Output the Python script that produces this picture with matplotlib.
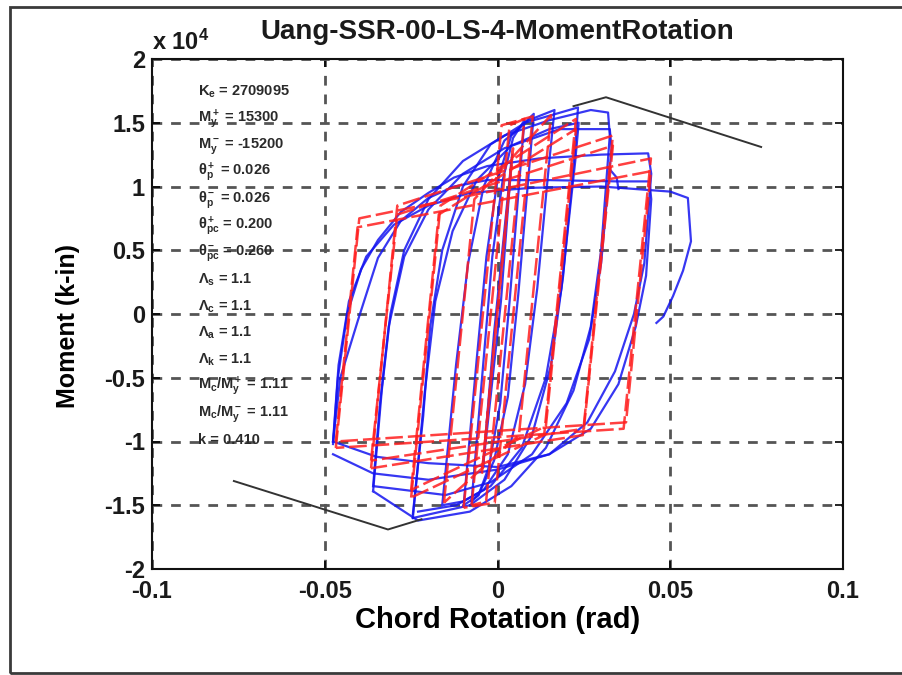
import matplotlib
matplotlib.use("Agg")
import matplotlib.pyplot as plt
from matplotlib.patches import Rectangle
import numpy as np

plt.rcParams['font.family'] = ['Liberation Sans', 'DejaVu Sans']
plt.rcParams['mathtext.fontset'] = 'custom'
plt.rcParams['mathtext.rm'] = 'Liberation Sans:bold'
plt.rcParams['mathtext.bf'] = 'Liberation Sans:bold'
plt.rcParams['mathtext.it'] = 'Liberation Sans:bold'
plt.rcParams['mathtext.default'] = 'bf'

# ---------------- data (rotation in rad, moment in 1e4 k-in) ----------------
TITLE = "Uang-SSR-00-LS-4-MomentRotation"
X_TICKS = [-0.1, -0.05, 0, 0.05, 0.1]
X_TICK_LABELS = ["-0.1", "-0.05", "0", "0.05", "0.1"]
Y_TICKS = [-2, -1.5, -1, -0.5, 0, 0.5, 1, 1.5, 2]
Y_TICK_LABELS = ["-2", "-1.5", "-1", "-0.5", "0", "0.5", "1", "1.5", "2"]

# experimental loops (blue)
BLUE_LOOP_1 = [(-0.0042, -1.20), (-0.001, -0.15), (0.0042, 1.25), (0.001, 0.10), (-0.0042, -1.20)]
BLUE_LOOP_2 = [(-0.0075, -1.47), (-0.0040, -0.35), (-0.0015, 0.45), (0.0015, 1.05), (0.0045, 1.38),
               (0.0078, 1.52), (0.0065, 1.10), (0.0035, 0.10), (0.0008, -0.70), (-0.0025, -1.20),
               (-0.0055, -1.42), (-0.0075, -1.47)]
BLUE_LOOP_3 = [(-0.0098, -1.50), (-0.0060, -0.35), (-0.0032, 0.45), (0.0000, 1.05), (0.0040, 1.40),
               (0.0105, 1.57), (0.0092, 1.15), (0.0060, 0.15), (0.0030, -0.65), (-0.0010, -1.15),
               (-0.0055, -1.42), (-0.0098, -1.50)]
BLUE_LOOP_4 = [(-0.0160, -1.50), (-0.0120, -0.40), (-0.0085, 0.40), (-0.0040, 1.00), (0.0020, 1.36),
               (0.0090, 1.52), (0.0165, 1.60), (0.0150, 1.20), (0.0115, 0.20), (0.0080, -0.55),
               (0.0030, -1.10), (-0.0040, -1.38), (-0.0100, -1.47), (-0.0160, -1.50)]
BLUE_LOOP_5 = [(-0.0245, -1.57), (-0.0215, -0.80), (-0.0195, -0.10), (-0.0160, 0.50), (-0.0100, 1.00),
               (-0.0020, 1.33), (0.0080, 1.50), (0.0233, 1.62), (0.0225, 1.30), (0.0190, 0.30),
               (0.0155, -0.40), (0.0100, -0.95), (0.0020, -1.30), (-0.0080, -1.50), (-0.0245, -1.60)]
BLUE_LOOP_6 = [(-0.0245, -1.60), (-0.0210, -0.60), (-0.0180, 0.10), (-0.0130, 0.65), (-0.0060, 1.05),
               (0.0040, 1.32), (0.0150, 1.45), (0.0235, 1.50), (0.0225, 1.20), (0.0185, 0.20),
               (0.0140, -0.50), (0.0070, -1.05), (-0.0020, -1.35), (-0.0120, -1.50), (-0.0230, -1.55)]
BLUE_LOOP_7 = [(-0.0360, -1.39), (-0.0335, -0.60), (-0.0310, 0.00), (-0.0270, 0.50), (-0.0200, 0.90),
               (-0.0100, 1.20), (0.0020, 1.40), (0.0150, 1.52), (0.0270, 1.60), (0.0320, 1.58),
               (0.0325, 1.40), (0.0300, 0.50), (0.0270, -0.10), (0.0220, -0.60), (0.0140, -1.05),
               (0.0040, -1.35), (-0.0080, -1.55), (-0.0230, -1.62), (-0.0360, -1.39)]
BLUE_LOOP_8 = [(-0.0360, -1.35), (-0.0340, -0.70), (-0.0315, -0.10), (-0.0270, 0.45), (-0.0200, 0.82),
               (-0.0100, 1.10), (0.0020, 1.30), (0.0180, 1.45), (0.0325, 1.45), (0.0330, 1.30),
               (0.0300, 0.40), (0.0265, -0.20), (0.0200, -0.70), (0.0100, -1.10), (-0.0020, -1.32),
               (-0.0150, -1.42), (-0.0360, -1.35)]
BLUE_LOOP_9 = [(-0.0476, -1.02), (-0.0462, -0.50), (-0.0435, 0.00), (-0.0395, 0.35), (-0.0346, 0.58),
               (-0.0280, 0.80), (-0.0200, 0.95), (-0.0126, 1.07), (-0.0030, 1.16), (0.0120, 1.22),
               (0.0300, 1.25), (0.0436, 1.26), (0.0445, 1.10), (0.0425, 0.40), (0.0395, 0.00),
               (0.0340, -0.45), (0.0260, -0.85), (0.0150, -1.10), (0.0000, -1.22), (-0.0200, -1.30),
               (-0.0360, -1.25), (-0.0476, -1.10)]
BLUE_LOOP_10 = [(-0.0476, -1.00), (-0.0455, -0.50), (-0.0404, -0.05), (-0.0346, 0.44), (-0.0280, 0.73),
                (-0.0200, 0.91), (-0.0126, 1.00), (-0.0030, 1.05), (0.0150, 1.05), (0.0350, 1.04),
                (0.0440, 1.04), (0.0445, 0.90), (0.0430, 0.30), (0.0400, -0.10), (0.0350, -0.55),
                (0.0270, -0.90), (0.0150, -1.10), (0.0000, -1.20), (-0.0200, -1.17), (-0.0350, -1.12),
                (-0.0476, -1.00)]
BLUE_LOOP_11 = [(-0.0476, -1.00), (-0.0460, -0.40), (-0.0430, 0.10), (-0.0380, 0.45), (-0.0300, 0.70),
                (-0.0200, 0.85), (-0.0080, 0.95), (0.0100, 0.99), (0.0300, 1.00), (0.0500, 0.96),
                (0.0551, 0.91), (0.0560, 0.57), (0.0537, 0.34), (0.0508, 0.14), (0.0480, -0.02),
                (0.0460, -0.07)]
BLUE_LOOP_12 = [(0.0320, 1.15), (0.0345, 1.07), (0.0350, 0.98)]

# model loops (red)
RED_LOOP_1 = [(-0.0045, -1.25), (0.0045, 1.30), (-0.0045, -1.25)]
RED_LOOP_2 = [(-0.0075, -1.50), (0.0035, 1.48), (0.0078, 1.53), (-0.0033, -1.47), (-0.0075, -1.50)]
RED_LOOP_3 = [(-0.0098, -1.52), (0.0012, 1.48), (0.0102, 1.55), (-0.0008, -1.48), (-0.0098, -1.52)]
RED_LOOP_4 = [(-0.0155, -1.48), (-0.0067, 0.90), (0.0155, 1.56), (0.0062, -0.95), (-0.0155, -1.48)]
RED_LOOP_5 = [(-0.0250, -1.44), (-0.0165, 0.85), (0.0227, 1.53), (0.0135, -0.95), (-0.0250, -1.44)]
RED_LOOP_6 = [(-0.0250, -1.38), (-0.0170, 0.78), (0.0227, 1.45), (0.0140, -0.88), (-0.0250, -1.38)]
RED_LOOP_7 = [(-0.0366, -1.21), (-0.0290, 0.85), (0.0334, 1.40), (0.0247, -0.95), (-0.0366, -1.21)]
RED_LOOP_8 = [(-0.0366, -1.15), (-0.0290, 0.78), (0.0334, 1.32), (0.0250, -0.90), (-0.0366, -1.15)]
RED_LOOP_9 = [(-0.0468, -1.05), (-0.0400, 0.75), (0.0444, 1.22), (0.0365, -0.90), (-0.0468, -1.05)]
RED_LOOP_10 = [(-0.0468, -1.00), (-0.0405, 0.68), (0.0444, 1.12), (0.0372, -0.85), (-0.0468, -1.00)]

# backbone (black)
BACKBONE_POS = [(0.0220, 1.63), (0.0314, 1.70), (0.0763, 1.31)]
BACKBONE_NEG = [(-0.0763, -1.31), (-0.0317, -1.69), (-0.0220, -1.61)]

PARAM_TEXTS = [
    r"K$_e$ = 2709095",
    r"M$_y^+$ = 15300",
    r"M$_y^-$ = -15200",
    r"θ$_p^+$ = 0.026",
    r"θ$_p^-$ = 0.026",
    r"θ$_{pc}^+$ = 0.200",
    r"θ$_{pc}^-$ = 0.260",
    r"Λ$_s$ = 1.1",
    r"Λ$_c$ = 1.1",
    r"Λ$_a$ = 1.1",
    r"Λ$_k$ = 1.1",
    r"M$_c$/M$_y^+$ = 1.11",
    r"M$_c$/M$_y^-$ = 1.11",
    r"k = 0.410",
]

BLUE_LOOPS = [BLUE_LOOP_1, BLUE_LOOP_2, BLUE_LOOP_3, BLUE_LOOP_4, BLUE_LOOP_5, BLUE_LOOP_6,
              BLUE_LOOP_7, BLUE_LOOP_8, BLUE_LOOP_9, BLUE_LOOP_10, BLUE_LOOP_11, BLUE_LOOP_12]
RED_LOOPS = [RED_LOOP_1, RED_LOOP_2, RED_LOOP_3, RED_LOOP_4, RED_LOOP_5, RED_LOOP_6,
             RED_LOOP_7, RED_LOOP_8, RED_LOOP_9, RED_LOOP_10]

# ---------------- figure ----------------
W, H = 902, 675
fig = plt.figure(figsize=(W / 100, H / 100), dpi=100)
ax = fig.add_axes([152 / W, 1 - 569 / H, (843 - 152) / W, (569 - 59) / H])

# outer frame
fig.patches.append(Rectangle((10 / W, 2 / H), 1.2, 1 - 9 / H, transform=fig.transFigure,
                             fill=False, edgecolor='#3a3a3a', linewidth=2.0))

blue_c = '#1414f0'
red_c = '#ff1e1e'
for i in range(max(len(BLUE_LOOPS), len(RED_LOOPS))):
    if i < len(BLUE_LOOPS):
        pts = np.array(BLUE_LOOPS[i])
        ax.plot(pts[:, 0], pts[:, 1], color=blue_c, lw=1.6, alpha=0.85, zorder=3)
    if i < len(RED_LOOPS):
        pts = np.array(RED_LOOPS[i])
        ax.plot(pts[:, 0], pts[:, 1], color=red_c, lw=1.8, alpha=0.85,
                linestyle=(0, (7, 2)), zorder=4)

for bb in (BACKBONE_POS, BACKBONE_NEG):
    pts = np.array(bb)
    ax.plot(pts[:, 0], pts[:, 1], color='#333333', lw=1.4, zorder=5)

ax.set_xlim(-0.1, 0.1)
ax.set_ylim(-2, 2)
ax.set_xticks(X_TICKS)
ax.set_xticklabels(X_TICK_LABELS)
ax.set_yticks(Y_TICKS)
ax.set_yticklabels(Y_TICK_LABELS)
ax.tick_params(direction='in', length=6, width=1.2, top=True, right=True,
               labelsize=17)
ax.tick_params(axis='x', pad=8)
ax.tick_params(axis='y', pad=5)
for lab in ax.get_xticklabels() + ax.get_yticklabels():
    lab.set_fontweight('bold')
    lab.set_color('#1a1a1a')
for sp in ax.spines.values():
    sp.set_linewidth(1.5)
    sp.set_color('#111111')

ax.grid(True, color='#555555', linewidth=2.0, linestyle=(0, (3.5, 3.2)), zorder=1)
ax.set_axisbelow(True)

ax.set_xlabel("Chord Rotation (rad)", fontsize=21, fontweight='bold')
ax.xaxis.label.set_va('center')
ax.xaxis.set_label_coords(0.5, -(620 - 569) / 510)
ax.set_ylabel("Moment (k-in)", fontsize=18, fontweight='bold')
ax.yaxis.label.set_va('center')
ax.yaxis.set_label_coords(-(152 - 68) / 691, 0.5 - 12 / 510)
fig.text(497 / W, 1 - 32 / H, TITLE, ha='center', va='center', fontsize=20,
         fontweight='bold', color='#1a1a1a')
fig.text(152 / W, 1 - 42 / H, r"x 10$^4$", ha='left', va='center', fontsize=17,
         fontweight='bold', color='#1a1a1a')

ys = np.linspace(1.74, -0.99, len(PARAM_TEXTS))
for t, yv in zip(PARAM_TEXTS, ys):
    ax.text(-0.0868, yv, t, fontsize=10.5, fontweight='bold', color='#2a2a2a',
            ha='left', va='center', zorder=6)

fig.savefig("out.png", dpi=100)
